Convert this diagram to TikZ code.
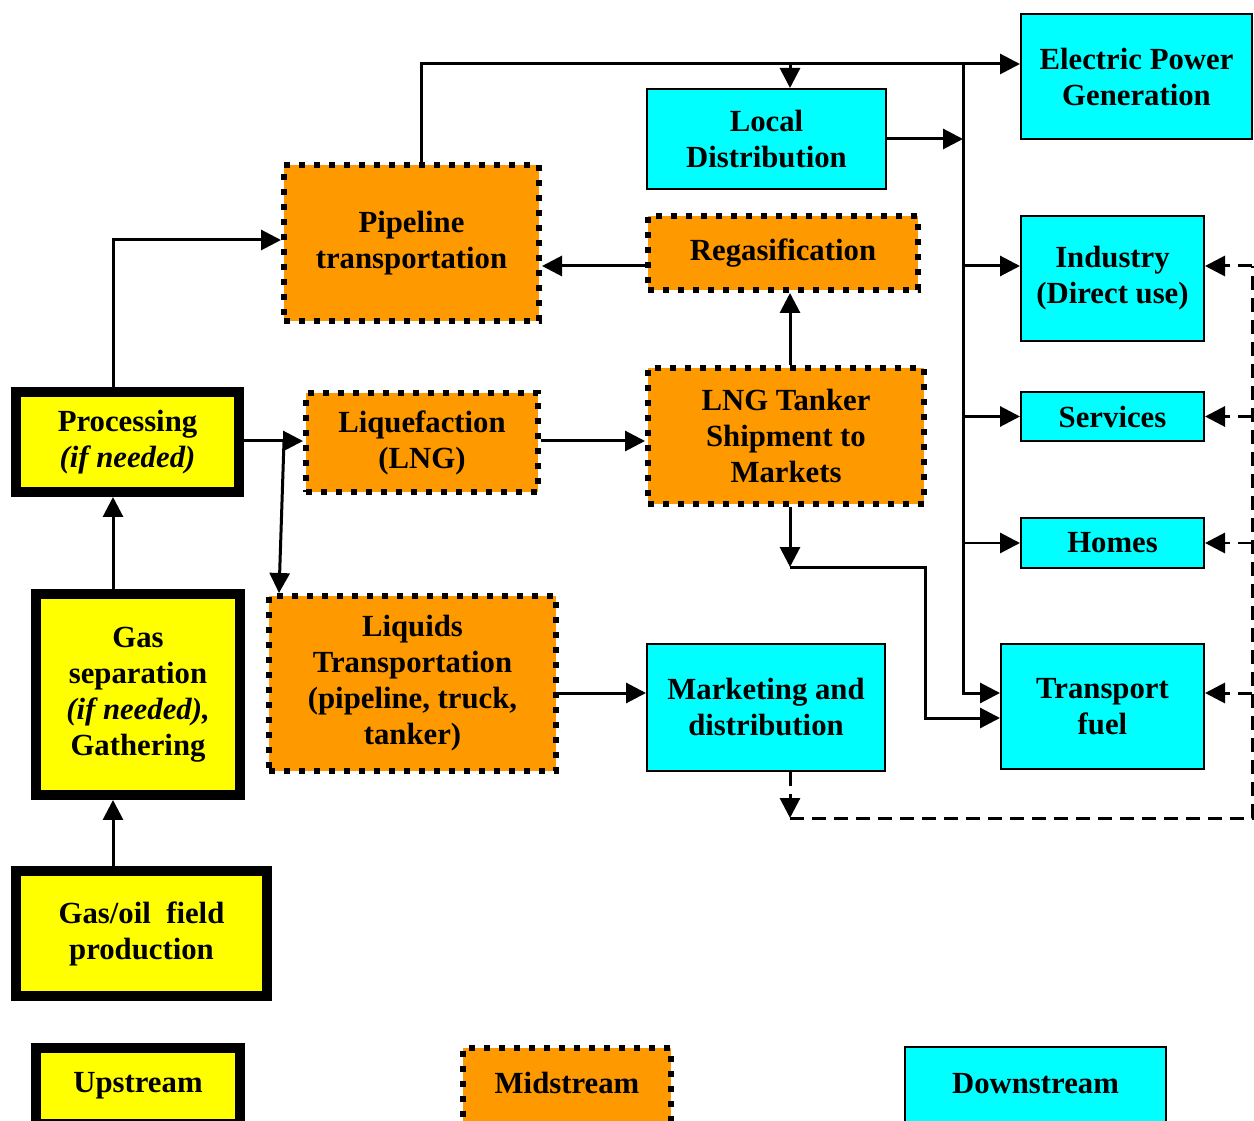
\documentclass[tikz,border=0pt]{standalone}
\usepackage{fontspec}
\setmainfont{Liberation Serif}
\usetikzlibrary{arrows.meta,positioning,calc}

\definecolor{upyellow}{HTML}{FFFF00}
\definecolor{midorange}{HTML}{FF9900}
\definecolor{downcyan}{HTML}{00FFFF}

\tikzset{
  wh/.style 2 args={minimum width=#1*0.02cm, minimum height=#2*0.02cm},
  boxtext/.style={align=center, inner sep=0pt, font=\bfseries\fontsize{17.5}{20.5}\selectfont},
  upbox/.style={boxtext, draw=black, fill=upyellow, line width=0.2cm},
  midbox/.style={boxtext, draw=black, fill=midorange, line width=0.12cm, dash pattern=on 0.12cm off 0.18cm},
  downbox/.style={boxtext, draw=black, fill=downcyan, line width=0.04cm},
  arr/.style={line width=0.06cm, -{Triangle[length=0.4cm,width=0.4cm]}},
  darr/.style={arr, dash pattern=on 0.28cm off 0.16cm},
  dline/.style={line width=0.06cm, dash pattern=on 0.28cm off 0.16cm}
}

\begin{document}
\begin{tikzpicture}[x=0.02cm, y=-0.02cm]
  \fill[white] (0,0) rectangle (1254,1121); %page
  \useasboundingbox (0,0) rectangle (1254,1121);

  %Upstream
  \node[upbox, wh={223}{100}] (proc) at (127.5,442) {Processing\\\textit{(if needed)}};
  \node[upbox, wh={204}{201}] (gassep) at (138,694.5) {Gas\\separation\\\textit{(if needed),}\\Gathering};
  \node[upbox, wh={251}{125}] (field) at (141.5,933.5) {Gas/oil~ field\\production};

  %Midstream
  \node[midbox, wh={255}{156}] (pipe) at (411.5,243) {Pipeline\\transportation};
  \node[midbox, wh={270}{74}] (regas) at (783,253) {Regasification};
  \node[midbox, wh={232}{99}] (liq) at (422,442.5) {Liquefaction\\(LNG)};
  \node[midbox, wh={276}{136}] (lng) at (786,436) {LNG Tanker\\Shipment to\\Markets};
  \node[midbox, wh={287}{175}] (liqtr) at (412.5,683.5) {Liquids\\Transportation\\(pipeline, truck,\\tanker)};

  %Downstream
  \node[downbox, wh={231}{125}] (elec) at (1136.5,76.5) {Electric Power\\Generation};
  \node[downbox, wh={239}{100}] (local) at (766.5,139) {Local\\Distribution};
  \node[downbox, wh={183}{125}] (industry) at (1112.5,278.5) {Industry\\(Direct use)};
  \node[downbox, wh={183}{49}] (services) at (1112.5,416.5) {Services};
  \node[downbox, wh={183}{50}] (homes) at (1112.5,543) {Homes};
  \node[downbox, wh={238}{127}] (market) at (766,707.5) {Marketing and\\distribution};
  \node[downbox, wh={203}{125}] (transport) at (1102.5,706.5) {Transport\\fuel};

  %Legend
  \node[upbox, wh={204}{76}] (legup) at (138,1086) {Upstream};
  \node[midbox, wh={208}{76}] (legmid) at (567,1086) {\raisebox{4pt}{Midstream}};
  \node[downbox, wh={261}{78}] (legdown) at (1035.5,1086) {\raisebox{3pt}{Downstream}};

  %Helper coordinates
  \coordinate (trunk) at (113,0);   %upstream line
  \coordinate (mid) at (790,0);     %LNG line
  \coordinate (top) at (421,64);    %top line
  \coordinate (bus) at (963,0);     %downstream bus
  \coordinate (row1) at (0,266);    %industry row
  \coordinate (row4) at (0,693);    %transport row
  \coordinate (row5) at (0,718);    %LNG to transport
  \coordinate (fork) at (284,441);  %split to liquids
  \coordinate (forkend) at (279,593);
  \coordinate (kink) at (925,567);
  \coordinate (loop) at (790,818);  %dashed return
  \coordinate (back) at (1252,818);

  %Upstream flow
  \draw[arr] (field.north -| trunk) -- (gassep.south -| trunk);
  \draw[arr] (gassep.north -| trunk) -- (proc.south -| trunk);
  \draw[arr] (proc.north -| trunk) |- (pipe.west |- 0,240);
  \draw[arr] (proc.east |- fork) -- (liq.west |- fork);
  \draw[arr] (fork) -- (forkend);

  %Midstream flow
  \draw[arr] (liq.east |- fork) -- (lng.west |- fork);
  \draw[arr] (lng.north -| mid) -- (regas.south -| mid);
  \draw[arr] (regas.west |- row1) -- (pipe.east |- row1);
  \draw[arr] (pipe.north -| top) -- (top) -- (top -| elec.west);
  \draw[arr] (top -| mid) -- (local.north -| mid);
  \draw[arr] (liqtr.east |- row4) -- (market.west |- row4);
  \draw[arr] (lng.south -| mid) -- (kink -| mid);
  \draw[arr] (kink -| mid) -- (kink) |- (transport.west |- row5);

  %Downstream bus
  \draw[arr] (local.east) -- (local.east -| bus);
  \draw[arr] (top -| bus) |- (transport.west |- row4);
  \draw[arr] (bus |- row1) -- (industry.west |- row1);
  \draw[arr] (bus |- services.west) -- (services.west);
  \draw[arr] (bus |- homes.west) -- (homes.west);

  %Dashed return from marketing
  \draw[darr] (market.south -| mid) -- (loop);
  \draw[dline] (loop) -- (back) -- (back |- row1);
  \draw[darr] (back |- row1) -- (industry.east |- row1);
  \draw[darr] (back |- services.east) -- (services.east);
  \draw[darr] (back |- homes.east) -- (homes.east);
  \draw[darr] (back |- row4) -- (transport.east |- row4);
\end{tikzpicture}
\end{document}
